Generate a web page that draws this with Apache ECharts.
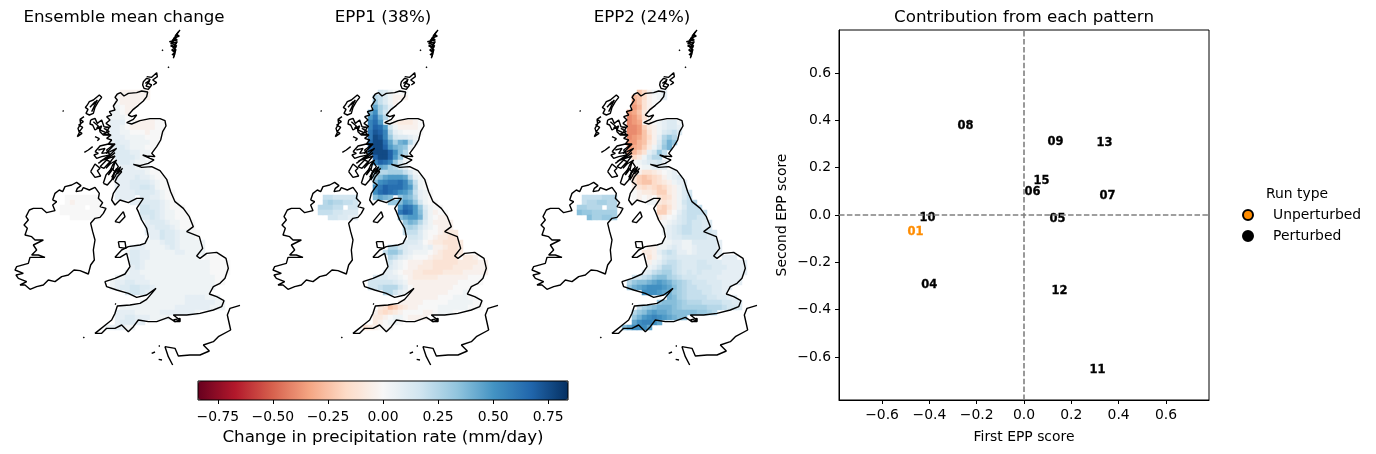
<!DOCTYPE html>
<html><head><meta charset="utf-8">
<style>html,body{margin:0;padding:0;background:#fff}#c{width:1376px;height:454px}</style>
<script src="https://cdn.jsdelivr.net/npm/echarts@6/dist/echarts.min.js"></script>
</head><body><div id="c"></div>
<script>
// Precipitation change cells: one char per cell.
// 0-9a-j : 0 .. +0.76 (0.04 per step), A-L : -0.04 .. -0.48, '.' : no data
const levelsPos = '0123456789abcdefghij';
const levelsNeg = 'ABCDEFGHIJKL';
const gbEnsemble = [
"....AAAAAA","...0AAAAAA","...0AAAA","...10AA","..110A","..1110","..222.0AAAA00","..2210AAAAA00","..2211000A000",
"..2221111000","..2322111100","..233211100","..23332211","...333321","...2332111","....222111","...222222100",
"...2222322100","...22233332100","...22233443100","...222233332100","...2222.3322100","......2233332100",
"........443321000","........4443211000","........3343211000",".........2333211000",".........2233321000",
".........22243321100","..........2243321110",".........111233211111","......222111123211111",".....1332211111221111",
"......33221111111111.000","......33211111111111110000","......23211111111111110000",".....122111111111111110000",
"...1122221111111111111100","..12233222111111111111100","..123344332111111111111",".....34432111111111111",
"..........11111112222111","........11111111122222211","....111111111112222222111","...22221111122222221",
"...22332221111","...233322",".122211"];
const gbEpp1 = [
"....431000","...6531AAA","...8531A","...b752","..ad74","..cfa6","..egc.0ABBBA0","..ehgc41AAAA0","..fihe6210000",
"..fjie843321","..gjjgb7ab62","..hjjhca982","..gjjjhd96","...hjjhc8","...ehge841","....ba7642","...566777531",
"...79bcccb621","...9deffgea510","...dfhgggec610","...dghgfdca5210","...9ba9.8a96210","......889cb84100",
"........cgfc83100","........fhgc941A00","........9bcca410AA",".........8a9631AAAA",".........6764210AAA",
".........5553100ABBB","..........44310ABBCC",".........33320ABBCCCB","......664322212AABCCB",".....5886321110ABCCCB",
"......65321000ABBCCC.BBA","......4210AAABBCCCCCBBBBAA","......3210AABBBCCCCBBBBAAA",".....2210AABBCCCCBBBBAAAAA",
"...3332210ABBBBBAAAAAA000","..44444321AAAAAAAAAA00000","..445666420AAAAAAAA0000",".....66421AAAAAAAA0001",
"..........AAAAAA00011100","........AAAAA000001111100","....BCFECBAA0000111111000","...ACDCBA0000AA01110",
"...BBA0110AAAA","...BA0110",".CBA000"];
const gbEpp2 = [
"....FDA112","...GFDA012","...HFCA0","...IGCA","..IHFB","..JIGC","..JIH.A012331","..JJIEBA12332","..JJIFCA13453",
"..JIHFDA2686","..IIGFCA37a8","..IHGEB148a","..HGEC2485","...DB1466","...0123342","....011222","...AACCBA012",
"...CEFEDCA123","...CEFFDCBA122","...ACDCDEDBA13","...0ABBCEEBA134","...0A0A.CDCA135","......11BCBA1456",
"........DECA13555","........EEB0245555","........BA01345544",".........0123454433",".........1234554433",
".........12345544443","..........2334444433",".........112211333332","......AA1123211233332",".....BBA2454221233332",
"......CA134433333333.222","......A1245543334433322222","......12466543334443332222",".....235677543434333322222",
"...4456899765444333322222","..6899abcba87654443332222","..8abcdddcb976554443322",".....dddcba87655544332",
"..........a9765555443322","........89998766655554433","....5789aaa98777776665443","...689bcbba999998876",
"...8acdedcba99","...bdeedb",".9bdddb"];
const niEnsemble = [".0000000",".0A00000","00000.00","00000000","..000000"];
const niEpp1 = [".5544444",".6766554","66655.44","55544333","..443322"];
const niEpp2 = [".5555666",".5667766","77666.66","98877777","..977887"];

// Coastlines, in map units of the panel
const gbCoast = [352,222,362,218,372,228,385,220,410,218,425,213,443,216,440,230,430,243,415,256,400,268,385,285,395,290,410,285,400,298,380,308,395,312,420,302,450,296,480,296,495,302,498,318,488,335,482,360,470,380,455,400,465,410,440,408,428,405,450,415,462,420,445,430,420,437,400,433,425,442,455,440,480,452,500,478,512,515,525,545,550,565,568,590,580,620,560,635,598,650,608,685,590,708,600,715,620,700,650,697,678,715,685,745,675,775,660,790,640,800,628,822,650,830,672,842,665,860,640,870,600,880,560,885,520,885,540,900,525,905,505,892,470,905,445,905,415,900,400,920,385,935,365,915,345,925,320,925,305,940,285,940,300,928,320,912,335,900,345,880,352,858,390,855,420,850,440,838,468,805,440,825,410,832,385,820,350,810,320,800,315,785,345,775,375,762,390,740,385,720,380,700,360,712,345,712,365,690,385,680,420,675,435,670,445,650,440,625,425,600,415,575,410,565,430,535,410,535,385,548,360,540,345,555,335,540,340,520,350,505,358,495,345,485,352,470,365,455,355,450,345,470,338,480,342,460,355,440,345,425,340,445,325,465,338,435,350,420,330,432,318,445,335,420,345,408,325,415,310,420,335,400,350,385,330,395,318,400,345,372,325,372,335,360,320,355,333,345,310,342,328,335,312,325,332,320,318,310,330,300,320,290,335,285,328,275,345,270,340,258,352,240,345,232,352,222];
const irelandCoast = [158,540,165,520,178,510,188,515,195,500,215,495,230,487,243,497,232,505,228,515,245,512,250,503,268,510,285,502,298,520,295,535,308,548,300,560,318,565,310,580,300,592,285,595,272,610,278,635,285,660,280,690,283,720,272,735,265,762,240,752,222,750,205,765,185,770,165,785,145,780,130,795,110,800,90,808,75,795,60,795,80,785,55,775,48,765,70,760,45,750,50,740,85,730,90,712,135,712,115,705,95,705,110,690,100,675,130,660,105,660,95,650,75,645,82,625,72,615,85,600,78,590,88,570,100,565,125,565,140,578,165,572,158,555,170,545,158,540];
const skyeCoast = [272,300,285,295,292,310,305,300,312,320,328,322,320,335,330,345,310,345,300,335,298,322,285,330,278,315,270,312,272,300];
const skyeLochs = [280,305,295,318,290,325,305,318,300,330,318,338];
const mullCoast = [285,395,300,378,325,372,340,375,320,390,330,405,305,410,290,415,282,405,295,400,285,395];
const mullLochs = [295,390,315,385,305,400,322,398];
const lornCoast = [295,430,315,415,300,425,330,405,318,420,345,398];
const fyneCoast = [335,472,350,445,340,462,362,440,352,462,368,445];
const smallIsles = [285,350,298,356,292,362];
const lewisCoast = [262,255,268,245,280,240,298,225,305,232,295,245,300,250,285,262,280,280,268,285,258,280,264,268,256,262,262,255];
const lewisInner = [270,262,285,245,278,255,292,240,275,275,285,258];
const uistCoast = [252,290,240,298,250,305,236,315,248,322,238,335,246,340,232,350,238,338,234,325,242,312,240,298];
const tireeCoast = [253,397,265,390,278,380];
const islayCoast = [272,455,285,432,300,445,292,452,302,468,285,472,272,455];
const juraCoast = [300,440,320,420,330,425,312,445,300,440];
const kintyreCoast = [310,490,318,465,335,445,345,455,335,480,322,495,310,490];
const orkneyWest = [430,185,440,175,450,178,445,190,455,195,445,208,432,205,428,195,430,185];
const orkneyEast = [440,170,455,172,470,158,472,170,458,180,470,188,460,195];
const orkneyInner = [436,190,448,182,438,198,450,202];
const shetlandCoast = [540,30,528,45,538,48,520,55,532,60,508,65,530,70,512,78,528,82,515,90,526,95,516,105,525,100,520,115];
const shetlandInner = [536,35,524,50,534,42,516,62,530,52,512,72,532,65,518,84,530,76,519,96,528,88,521,110];
const angleseyCoast = [355,665,375,665,378,685,358,682,355,665];
const manCoast = [345,605,370,575,375,590,358,608,345,605];
const wightCoast = [520,900,540,895,540,905,525,905,520,900];
const franceCoast = [720,856,690,865,682,885,692,930,655,950,640,965,610,975,628,993,600,1005,570,1005,535,1008,525,985,495,980,505,1010,518,1035];
const dotCoast1 = [188,272,191,274];
const dotCoast2 = [486,89,489,92];
const dotCoast3 = [504,140,507,143];
const dotCoast4 = [250,951,253,954];
const dotCoast5 = [345,851,348,853];
const dotCoast6 = [455,1000,465,996];
const dotCoast7 = [476,1018,486,1020];
const dotCoast8 = [476,978,480,978];
const allCoasts = [gbCoast,irelandCoast,skyeCoast,skyeLochs,mullCoast,mullLochs,lornCoast,fyneCoast,smallIsles,lewisCoast,lewisInner,uistCoast,tireeCoast,islayCoast,juraCoast,kintyreCoast,orkneyWest,orkneyEast,orkneyInner,shetlandCoast,shetlandInner,angleseyCoast,manCoast,wightCoast,franceCoast,dotCoast1,dotCoast2,dotCoast3,dotCoast4,dotCoast5,dotCoast6,dotCoast7,dotCoast8];

// Scatter scores
const perturbedRuns = ['04','05','06','07','08','09','10','11','12','13','15'];
const firstScore   = [-0.40,0.142,0.036,0.353,-0.247,0.133,-0.408,0.311,0.15,0.34,0.074];
const secondScore  = [-0.292,-0.013,0.101,0.085,0.38,0.313,-0.008,-0.651,-0.317,0.309,0.148];
const unperturbedRun = ['01'];
const unperturbedFirst = [-0.459];
const unperturbedSecond = [-0.068];

const panelTitles = ['Ensemble mean change','EPP1 (38%)','EPP2 (24%)'];
const panelLeft = [0,258,517];
const titleCenter = [119,378,637];
const cbTicks = [-0.75,-0.5,-0.25,0,0.25,0.5,0.75];
const scoreTicks = [-0.6,-0.4,-0.2,0,0.2,0.4,0.6];
const rdbu = ['#67001f','#b2182b','#d6604d','#f4a582','#fddbc7','#f7f7f7','#d1e5f0','#92c5de','#4393c3','#2166ac','#053061'];

const FONT='"DejaVu Sans"';
const minus=s=>s.replace('-','\u2212');
function decode(ch){
  if(ch==='.')return null;
  const p=levelsPos.indexOf(ch);
  if(p>=0)return p*0.04;
  return -(levelsNeg.indexOf(ch)+1)*0.04;
}
function cells(rows,col0,row0){
  const out=[];
  rows.forEach((s,r)=>{[...s].forEach((ch,c)=>{
    const v=decode(ch); if(v!==null)out.push([col0+c,row0+r,v]);
  });});
  return out;
}
const colCats=[];for(let i=0;i<52;i++)colCats.push(String(i));
const rowCats=[];for(let i=0;i<70;i++)rowCats.push(String(i));
const grids=[],xAxes=[],yAxes=[],series=[],titles=[],heatIdx=[];
const gbSets=[gbEnsemble,gbEpp1,gbEpp2],niSets=[niEnsemble,niEpp1,niEpp2];
panelLeft.forEach((L,p)=>{
  grids.push({left:L,top:20,width:260,height:350,show:false});
  xAxes.push({gridIndex:p,type:'category',data:colCats,show:false});
  yAxes.push({gridIndex:p,type:'category',data:rowCats,inverse:true,show:false});
  xAxes.push({gridIndex:p,type:'value',min:0,max:780,show:false});
  yAxes.push({gridIndex:p,type:'value',min:0,max:1050,inverse:true,show:false});
  heatIdx.push(series.length);
  series.push({type:'heatmap',xAxisIndex:2*p,yAxisIndex:2*p,silent:true,animation:false,
    data:cells(gbSets[p],20,14).concat(cells(niSets[p],12,35)),
    itemStyle:{borderWidth:0},progressive:0});
  allCoasts.forEach(cs=>{
    const d=[];for(let i=0;i<cs.length;i+=2)d.push([cs[i],cs[i+1]]);
    series.push({type:'line',xAxisIndex:2*p+1,yAxisIndex:2*p+1,data:d,showSymbol:false,silent:true,animation:false,
      clip:false,z:5,lineStyle:{color:'#000',width:1.4},itemStyle:{color:'#000'}});
  });
  titles.push({text:panelTitles[p],left:titleCenter[p],top:4,textAlign:'center',
    textStyle:{fontFamily:FONT,fontSize:16.7,fontWeight:'normal',color:'#000'}});
});
// colour bar axis
grids.push({left:198,top:381,width:370,height:19,show:true,borderColor:'#000',borderWidth:1,backgroundColor:'transparent',z:6});
xAxes.push({gridIndex:3,type:'value',min:-0.84,max:0.84,position:'bottom',
  name:'Change in precipitation rate (mm/day)',nameLocation:'middle',nameGap:29,
  nameTextStyle:{fontFamily:FONT,fontSize:16.7,color:'#000'},
  axisLine:{show:false},splitLine:{show:false},
  axisTick:{length:4,customValues:cbTicks,lineStyle:{color:'#000'}},
  axisLabel:{customValues:cbTicks,fontFamily:FONT,fontSize:13.9,color:'#000',margin:10,formatter:v=>minus(v.toFixed(2))},z:6});
yAxes.push({gridIndex:3,type:'value',min:0,max:1,show:false});
// scatter panel
grids.push({left:839,top:30,width:370,height:370,show:true,borderColor:'#000',borderWidth:1,backgroundColor:'transparent'});
const axName={fontFamily:FONT,fontSize:13.9,color:'#000'};
xAxes.push({gridIndex:4,type:'value',min:-0.782,max:0.782,name:'First EPP score',nameLocation:'middle',nameGap:30,nameTextStyle:axName,
  axisLine:{onZero:false,lineStyle:{color:'#000'}},splitLine:{show:false},
  axisTick:{length:4,customValues:scoreTicks,lineStyle:{color:'#000'}},
  axisLabel:{customValues:scoreTicks,fontFamily:FONT,fontSize:13.9,color:'#000',margin:8,formatter:v=>minus(v.toFixed(1))}});
yAxes.push({gridIndex:4,type:'value',min:-0.782,max:0.782,name:'Second EPP score',nameLocation:'middle',nameGap:50,nameTextStyle:axName,
  axisLine:{onZero:false,lineStyle:{color:'#000'}},splitLine:{show:false},
  axisTick:{length:4,customValues:scoreTicks,lineStyle:{color:'#000'}},
  axisLabel:{customValues:scoreTicks,fontFamily:FONT,fontSize:13.9,color:'#000',margin:8,padding:[2,0,0,0],formatter:v=>minus(v.toFixed(1))}});
function scoreSeries(name,color,ids,xs,ys,extra){
  return Object.assign({type:'scatter',name,xAxisIndex:7,yAxisIndex:7,symbolSize:0,animation:false,silent:true,
    itemStyle:{color,borderColor:'#000',borderWidth:1,opacity:1},
    label:{show:true,position:'inside',offset:[0,1],fontFamily:FONT,fontSize:11.5,fontWeight:'bold',color,textBorderColor:color,textBorderWidth:0.3,formatter:o=>o.data[2]},
    data:ids.map((id,i)=>[xs[i],ys[i],id])},extra||{});
}
series.push(scoreSeries('Unperturbed','#ff8c00',unperturbedRun,unperturbedFirst,unperturbedSecond,{
  markLine:{silent:true,symbol:'none',animation:false,label:{show:false},lineStyle:{color:'#808080',width:1.6,type:[5.5,2.4]},
    data:[{xAxis:0},{yAxis:0}]}}));
series.push(scoreSeries('Perturbed','#000',perturbedRuns,firstScore,secondScore));
titles.push({text:'Contribution from each pattern',left:1019,top:4,textAlign:'center',
  textStyle:{fontFamily:FONT,fontSize:16.7,fontWeight:'normal',color:'#000'}});
titles.push({text:'Run type',left:1292,top:182,textAlign:'center',
  textStyle:{fontFamily:FONT,fontSize:13.9,fontWeight:'normal',color:'#000'}});

const chart=echarts.init(document.getElementById('c'),null,{renderer:'canvas'});
chart.setOption({
  animation:false,backgroundColor:'#fff',
  title:titles,grid:grids,xAxis:xAxes,yAxis:yAxes,series,
  tooltip:{show:false},
  legend:{left:1237,top:203,orient:'vertical',itemWidth:40,itemHeight:10,itemGap:7,selectedMode:false,
    data:['Unperturbed','Perturbed'],textStyle:{fontFamily:FONT,fontSize:13.9,color:'#000'}},
  visualMap:{type:'continuous',seriesIndex:heatIdx,min:-0.84,max:0.84,orient:'horizontal',left:198,top:381,
    itemWidth:19,itemHeight:370,padding:0,calculable:false,hoverLink:false,showLabel:false,text:null,z:1,
    inRange:{color:rdbu}}
});
</script></body></html>
